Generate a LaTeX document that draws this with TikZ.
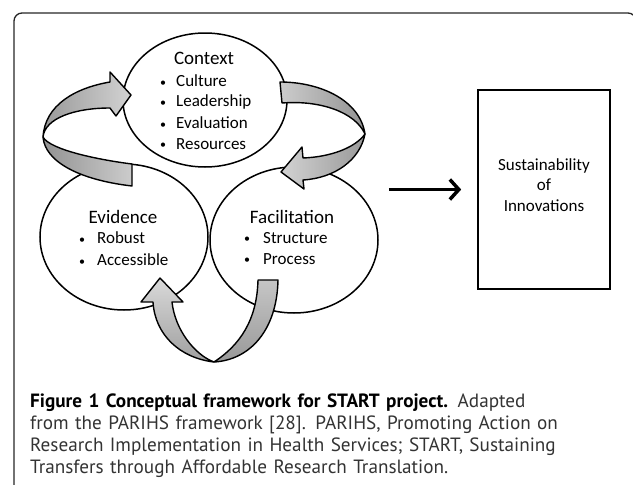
\documentclass[tikz,border=0pt]{standalone}
\usepackage{fontspec}
\setmainfont{Carlito}
\newfontfamily\capfont{PT Sans}
\usetikzlibrary{arrows.meta,shapes.geometric}
\newcommand{\dotitem}[2]{\makebox[#1][l]{\fontsize{12}{12}\selectfont\raisebox{0.5pt}{•}}#2}

\begin{document}
\begin{tikzpicture}[x=1pt,y=-1pt,
	ring/.style={ellipse, draw, line width=1.5pt, fill=white, inner sep=0pt},
	ribbon/.style={draw, line width=1.4pt, line join=round},
	head/.style={font=\fontsize{19}{22}\selectfont},
	item/.style={anchor=west, inner sep=0pt, font=\fontsize{17}{20}\selectfont},
	outarrow/.style={line width=3.5pt, -{Straight Barb[length=9pt,width=20pt]}}]
				\useasboundingbox (0,0) rectangle (633,485);
				\clip (0,0) rectangle (633,485);
				\draw[line width=1.3pt, rounded corners=8pt, black!85] (14,13) rectangle (636,500);
				
				% the three circles
				\node[ring, minimum width=168pt, minimum height=146pt] (evid) at (124,237) {};
				\node[ring, minimum width=168pt, minimum height=146pt] (facil) at (294,240) {};
				\node[ring, minimum width=164pt, minimum height=134pt] (ctx) at (205,100) {};
				
				% left arrow (Evidence -> Context)
				\coordinate (lfold) at (43,137);
				\draw[ribbon, left color=gray!80, right color=gray!35] (lfold) .. controls (45,105) and (75,88) .. (110,82) -- (110,72) -- (131,95) -- (116,116) -- (110,108) .. controls (75,108) and (45,118) .. (lfold) -- cycle;
				\draw[ribbon, left color=gray!85, right color=gray!40] (lfold) .. controls (50,150) and (100,160) .. (132,164) -- (132,186) .. controls (80,180) and (45,162) .. (lfold) -- cycle;
				
				% right arrow (Context -> Facilitation)
				\coordinate (rfold) at (365,134);
				\draw[ribbon, left color=gray!40, right color=gray!85] (280,82) .. controls (320,82) and (360,100) .. (rfold) .. controls (355,112) and (320,100) .. (282,103) -- cycle;
				\draw[ribbon, left color=gray!35, right color=gray!80] (rfold) .. controls (355,148) and (330,157) .. (303,158) -- (302,147) -- (281,172) -- (304,189) -- (303,180) .. controls (335,178) and (360,160) .. (rfold) -- cycle;
				
				% bottom arrow (Facilitation -> Evidence)
				\coordinate (bfold) at (214,362);
				\draw[ribbon, top color=gray!45, bottom color=gray!80] (258,280) -- (278,280) .. controls (277,330) and (250,360) .. (bfold) .. controls (240,345) and (257,320) .. (258,280) -- cycle;
				\draw[ribbon, top color=gray!30, bottom color=gray!75] (bfold) .. controls (180,358) and (155,335) .. (153,302) -- (141,302) -- (160,278) -- (183,302) -- (172,302) .. controls (175,330) and (195,355) .. (bfold) -- cycle;
				
				% texts in the circles
				\node[head] (ctxtitle) at (204,58) {Context};
				\foreach \txt/\yy [count=\i] in
				{Culture/81, Leadership/102, Evaluation/123, Resources/144}{
					\node[item] (ctx\i) at (160,\yy) {\dotitem{16pt}{\txt}};
				}
				\node[head] (evidtitle) at (123,217) {Evidence};
				\foreach \txt/\yy [count=\i] in
				{Robust/238, Accessible/260}{
					\node[item] (evid\i) at (79,\yy) {\dotitem{18pt}{\txt}};
				}
				\node[head] (faciltitle) at (292,217) {Facilitation};
				\foreach \txt/\yy [count=\i] in
				{Structure/238, Process/259}{
					\node[item] (facil\i) at (244,\yy) {\dotitem{19pt}{\txt}};
				}
				
				% outcome box
				\node[draw, line width=1.6pt, minimum width=132pt, minimum height=199pt] (box) at (544,189.5) {};
				\node[align=center, font=\fontsize{17}{20.5}\selectfont] (sust) at (544,185) {Sustainability\\of\\Innovations};
				\draw[outarrow, shorten <=10pt, shorten >=16pt] (facil.east |- box.west) -- (box.west);
				
				% caption
				\node[anchor=north west, align=left, inner sep=0pt, text width=600pt, text=black!80,
					font=\capfont\fontsize{19.2}{21.7}\selectfont] (caption) at (30,394)
					{\textcolor{black}{\textbf{Figure 1 Conceptual framework for START project.}} Adapted\\
					from the PARIHS framework [28]. PARIHS, Promoting Action on\\
					Research Implementation in Health Services; START, Sustaining\\
					Transfers through Affordable Research Translation.};
			\end{tikzpicture}
\end{document}
